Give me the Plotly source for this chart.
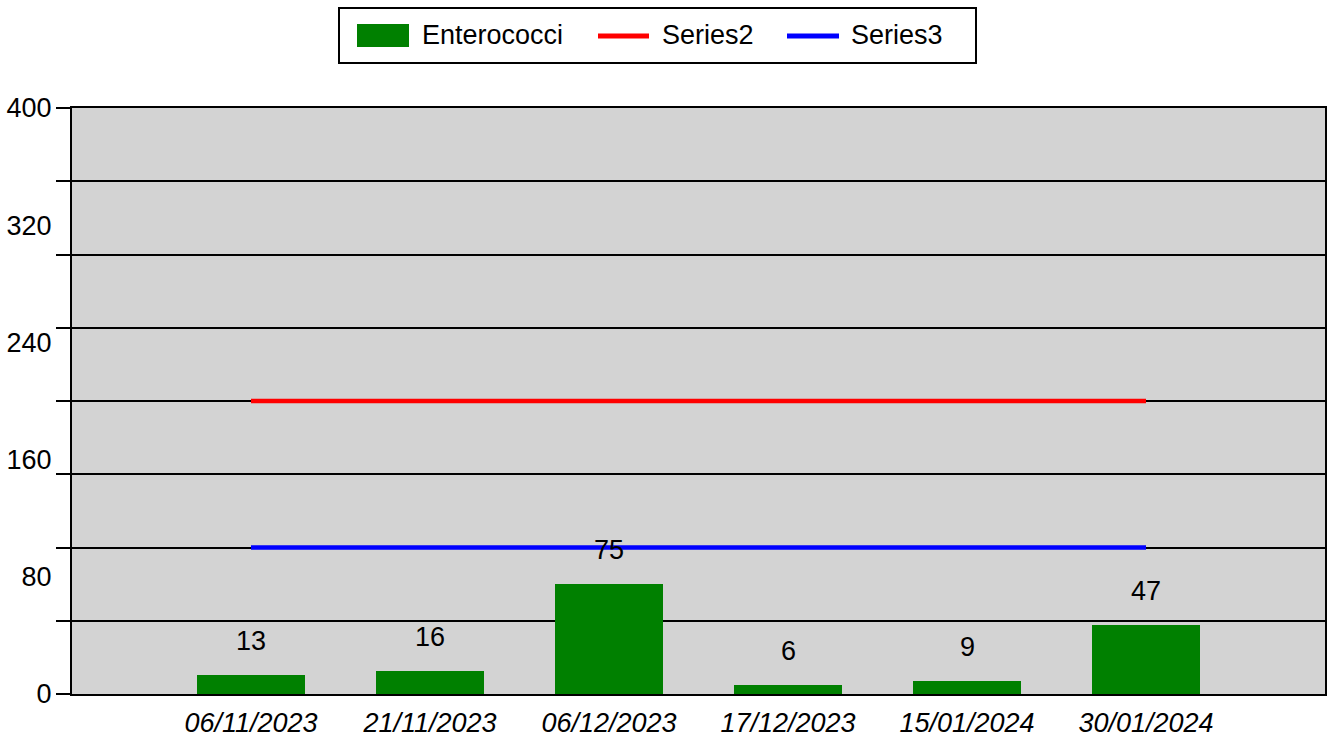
import plotly.graph_objects as go

categories = ["06/11/2023", "21/11/2023", "06/12/2023", "17/12/2023", "15/01/2024", "30/01/2024"]
enterococci = [13, 16, 75, 6, 9, 47]
series2 = [200, 200, 200, 200, 200, 200]
series3 = [100, 100, 100, 100, 100, 100]
y_label_vals = [0, 80, 160, 240, 320, 400]

FONT = "Liberation Sans, Arial, sans-serif"
FS = 27
W, H = 1330, 737
L, R, T, B = 72, 1325, 108, 694

xs = list(range(1, len(categories) + 1))

fig = go.Figure()
fig.add_trace(go.Bar(x=xs, y=enterococci, width=0.6, marker=dict(color="#008000", line=dict(width=0)),
                     name="Enterococci", showlegend=False))
fig.add_trace(go.Scatter(x=xs, y=series2, mode="lines", line=dict(color="#ff0000", width=4.5),
                         name="Series2", showlegend=False))
fig.add_trace(go.Scatter(x=xs, y=series3, mode="lines", line=dict(color="#0000ff", width=4.5),
                         name="Series3", showlegend=False))
# invisible trace to activate the label axis
fig.add_trace(go.Scatter(x=[xs[0]], y=[0], yaxis="y2", mode="markers", marker=dict(opacity=0),
                         showlegend=False, hoverinfo="skip"))

annotations = []
for x, v in zip(xs, enterococci):
    annotations.append(dict(x=x, y=v, xref="x", yref="y", text=str(v), showarrow=False,
                            yanchor="middle", yshift=34, font=dict(family=FONT, size=FS, color="black")))

def px_x(p):
    return (p - L) / (R - L)

def px_y(p):
    return (B - p) / (B - T)

shapes = []
# legend box
shapes.append(dict(type="rect", xref="paper", yref="paper", x0=px_x(339), x1=px_x(976),
                   y0=px_y(63), y1=px_y(8), line=dict(color="black", width=2), fillcolor="white", layer="above"))
shapes.append(dict(type="rect", xref="paper", yref="paper", x0=px_x(357), x1=px_x(409),
                   y0=px_y(47), y1=px_y(24), line=dict(width=0), fillcolor="#008000", layer="above"))
shapes.append(dict(type="line", xref="paper", yref="paper", x0=px_x(598), x1=px_x(649),
                   y0=px_y(36), y1=px_y(36), line=dict(color="#ff0000", width=5), layer="above"))
shapes.append(dict(type="line", xref="paper", yref="paper", x0=px_x(787), x1=px_x(839),
                   y0=px_y(36), y1=px_y(36), line=dict(color="#0000ff", width=5), layer="above"))
for txt, xp in [("Enterococci", 422), ("Series2", 662), ("Series3", 851)]:
    annotations.append(dict(x=px_x(xp), y=px_y(35), xref="paper", yref="paper", text=txt, showarrow=False,
                            xanchor="left", yanchor="middle", xshift=-2,
                            font=dict(family=FONT, size=FS, color="black")))

fig.update_layout(
    width=W, height=H,
    margin=dict(l=L, r=W - R, t=T, b=H - B, pad=0, autoexpand=False),
    paper_bgcolor="white", plot_bgcolor="#d3d3d3",
    font=dict(family=FONT, size=FS, color="black"),
    showlegend=False,
    bargap=0,
    xaxis=dict(range=[0, len(categories) + 1], tickvals=xs, ticktext=categories, automargin=False,
               tickfont=dict(family=FONT, size=FS, style="italic"),
               showgrid=False, zeroline=False, showline=True, linecolor="black", linewidth=2,
               mirror=True, ticks="outside", ticklen=4, tickcolor="rgba(0,0,0,0)"),
    yaxis=dict(range=[0, 400], dtick=50, showticklabels=False, showgrid=True, gridcolor="black",
               gridwidth=1.5, zeroline=False, showline=True, linecolor="black", linewidth=2, mirror=True,
               ticks="outside", ticklen=14, tickcolor="black", tickwidth=1.5, automargin=False),
    yaxis2=dict(range=[0, 400], overlaying="y", side="left", tickvals=y_label_vals, automargin=False,
                showgrid=False, zeroline=False, showline=False, ticks="outside", ticklen=14,
                tickcolor="rgba(0,0,0,0)", tickfont=dict(family=FONT, size=FS)),
    annotations=annotations,
    shapes=shapes,
)

fig.write_html("out.html", config={"displayModeBar": False},
               post_script="document.body.style.margin='0';document.body.style.padding='0';")
